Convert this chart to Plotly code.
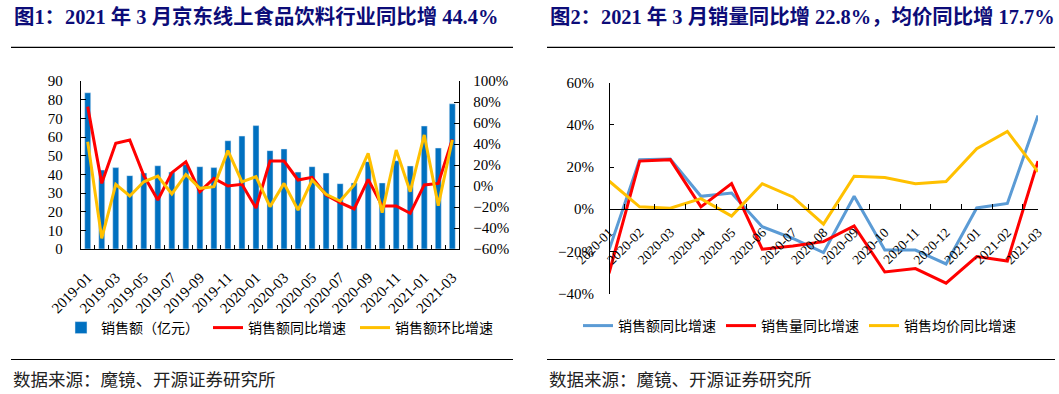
import plotly.graph_objects as go

W, H = 1059, 394

# ---------------- data: figure 1 ----------------
months1 = ["2019-01", "2019-02", "2019-03", "2019-04", "2019-05", "2019-06", "2019-07",
           "2019-08", "2019-09", "2019-10", "2019-11", "2019-12", "2020-01", "2020-02",
           "2020-03", "2020-04", "2020-05", "2020-06", "2020-07", "2020-08", "2020-09",
           "2020-10", "2020-11", "2020-12", "2021-01", "2021-02", "2021-03"]
sales = [83.7, 42.3, 43.6, 39.3, 40.7, 44.6, 41.2, 45.2, 44.1, 43.6, 58.0, 60.5, 66.1, 52.7,
         53.6, 41.2, 44.1, 40.7, 35.0, 35.4, 46.8, 35.4, 47.3, 44.5, 65.9, 54.1, 77.8]
sales_yoy = [75.6, 2.5, 40.6, 43.8, 10.0, -13.3, 12.7, 23.0, -5.4, 7.3, 0.0, 1.6, -21.0, 23.8,
             23.8, 5.7, 8.3, -8.6, -15.9, -21.9, 6.3, -19.0, -19.0, -26.0, 1.0, 2.5, 44.4]
sales_mom = [42.2, -49.8, 1.6, -9.5, 4.0, 9.5, -7.6, 11.0, -2.2, -0.6, 33.7, 4.0, 8.9, -19.7,
             2.5, -22.9, 5.7, -7.9, -14.3, 1.0, 31.0, -25.4, 34.3, -5.4, 48.6, -18.7, 43.8]

# ---------------- data: figure 2 ----------------
months2 = ["2020-01", "2020-02", "2020-03", "2020-04", "2020-05", "2020-06", "2020-07",
           "2020-08", "2020-09", "2020-10", "2020-11", "2020-12", "2021-01", "2021-02", "2021-03"]
amt_yoy = [-19.4, 23.5, 23.8, 6.1, 7.7, -8.3, -13.9, -20.6, 6.1, -19.4, -19.4, -26.0, 0.6, 2.7, 44.4]
vol_yoy = [-30.4, 22.8, 23.5, 1.1, 12.1, -19.0, -17.5, -15.4, -7.9, -29.8, -28.2, -35.1, -22.5, -24.6, 22.8]
price_yoy = [13.4, 1.1, 0.5, 5.0, -3.3, 12.1, 5.8, -7.1, 15.6, 15.0, 12.1, 13.1, 28.7, 36.9, 17.7]

title1 = "图1：2021 年 3 月京东线上食品饮料行业同比增 44.4%"
title2 = "图2：2021 年 3 月销量同比增 22.8%，均价同比增 17.7%"
source = "数据来源：魔镜、开源证券研究所"

C_BAR = "#0070C0"
C_RED = "#FF0000"
C_YEL = "#FFC000"
C_BLUE = "#5B9BD5"

SERIF = "Times New Roman, Liberation Serif, serif"
CJK = "Noto Sans CJK SC, sans-serif"
TITLE_FONT = "Times New Roman, Liberation Serif, Noto Sans CJK SC"


def px_x(v):
    return v / W


def px_y(v):
    return 1 - v / H


fig = go.Figure()

# ---- left chart traces ----
fig.add_trace(go.Bar(x=months1, y=sales, name="销售额（亿元）", marker_color=C_BAR,
                     xaxis="x", yaxis="y", legend="legend"))
fig.add_trace(go.Scatter(x=months1, y=sales_yoy, name="销售额同比增速", mode="lines",
                         line=dict(color=C_RED, width=3), xaxis="x", yaxis="y2", legend="legend"))
fig.add_trace(go.Scatter(x=months1, y=sales_mom, name="销售额环比增速", mode="lines",
                         line=dict(color=C_YEL, width=3), xaxis="x", yaxis="y2", legend="legend"))

# ---- right chart traces ----
fig.add_trace(go.Scatter(x=months2, y=amt_yoy, name="销售额同比增速", mode="lines",
                         line=dict(color=C_BLUE, width=3), xaxis="x2", yaxis="y3", legend="legend2"))
fig.add_trace(go.Scatter(x=months2, y=vol_yoy, name="销售量同比增速", mode="lines",
                         line=dict(color=C_RED, width=3), xaxis="x2", yaxis="y3", legend="legend2"))
fig.add_trace(go.Scatter(x=months2, y=price_yoy, name="销售均价同比增速", mode="lines",
                         line=dict(color=C_YEL, width=3), xaxis="x2", yaxis="y3", legend="legend2"))

tickfont = dict(family=SERIF, size=15, color="#000")
tickfont_small = dict(family=SERIF, size=13.5, color="#000")

# left chart geometry
L_x0, L_x1 = 80.7, 459.3
L_ytop, L_ybot = 81, 249
# right chart geometry
R_x0, R_x1 = 609, 1038
R_ytop, R_ybot = 82.7, 293.5
r_lo, r_hi = -40, 60
r_dom = [px_y(R_ybot), px_y(R_ytop)]
zero_pos = r_dom[0] + (0 - r_lo) / (r_hi - r_lo) * (r_dom[1] - r_dom[0])

common = dict(automargin=False, showgrid=False, zeroline=False, showline=True,
              linecolor="#000", linewidth=1, tickcolor="#000")

fig.update_layout(
    width=W, height=H,
    margin=dict(l=0, r=0, t=0, b=0, autoexpand=False),
    paper_bgcolor="white", plot_bgcolor="rgba(0,0,0,0)",
    bargap=0.57,
    showlegend=True,
    xaxis=dict(domain=[px_x(L_x0), px_x(L_x1)], type="category", anchor="y",
               tickmode="array", tickvals=months1,
               ticktext=[m if i % 2 == 0 else "" for i, m in enumerate(months1)],
               tickson="boundaries", ticks="inside", ticklen=4, tickfont=tickfont,
               tickangle=-45, ticklabelstandoff=13, **common),
    yaxis=dict(domain=[px_y(L_ybot), px_y(L_ytop)], range=[0, 90], dtick=10, anchor="x",
               ticks="inside", ticklen=5, ticklabelstandoff=14, tickfont=tickfont, **common),
    yaxis2=dict(range=[-60, 100], dtick=20, ticksuffix="%", overlaying="y", side="right",
                anchor="x", ticks="inside", ticklen=5, ticklabelstandoff=10,
                tickfont=tickfont, **common),
    xaxis2=dict(domain=[px_x(R_x0), px_x(R_x1)], type="category", anchor="free",
                position=zero_pos, tickson="boundaries", ticks="inside", ticklen=5,
                tickangle=-45, ticklabelstandoff=9, tickfont=tickfont_small, **common),
    yaxis3=dict(domain=r_dom, range=[r_lo, r_hi], dtick=20, ticksuffix="%", anchor="free",
                position=px_x(R_x0), ticks="inside", ticklen=4, ticklabelstandoff=12,
                tickfont=tickfont, **common),
    legend=dict(orientation="h", x=px_x(61), y=px_y(328), xanchor="left", yanchor="middle",
                font=dict(family=CJK, size=14, color="#000"), entrywidth=102,
                bgcolor="rgba(0,0,0,0)", itemclick=False, itemdoubleclick=False),
    legend2=dict(orientation="h", x=px_x(578), y=px_y(326), xanchor="left", yanchor="middle",
                 font=dict(family=CJK, size=14, color="#000"),
                 bgcolor="rgba(0,0,0,0)", itemclick=False, itemdoubleclick=False),
)

# titles, rules and footers
for x0, x1, title in [(11, 513, title1), (547, 1055, title2)]:
    fig.add_annotation(text=title, x=px_x(x0 + 1), y=px_y(17), xref="paper", yref="paper",
                       xanchor="left", yanchor="middle", showarrow=False,
                       font=dict(family=TITLE_FONT, size=20.4, color="#0C0C78", weight="bold"))
    fig.add_annotation(text=source, x=px_x(x0), y=px_y(378), xref="paper", yref="paper",
                       xanchor="left", yanchor="middle", showarrow=False,
                       font=dict(family=CJK, size=17.5, color="#222"))
    for yy in (47.3, 359.5):
        fig.add_shape(type="line", xref="paper", yref="paper", x0=px_x(x0), x1=px_x(x1),
                      y0=px_y(yy), y1=px_y(yy), line=dict(color="#000", width=1.2))

fig.write_html("out.html", config={"displayModeBar": False, "staticPlot": True},
               post_script="document.body.style.margin='0';document.body.style.overflow='hidden';")
